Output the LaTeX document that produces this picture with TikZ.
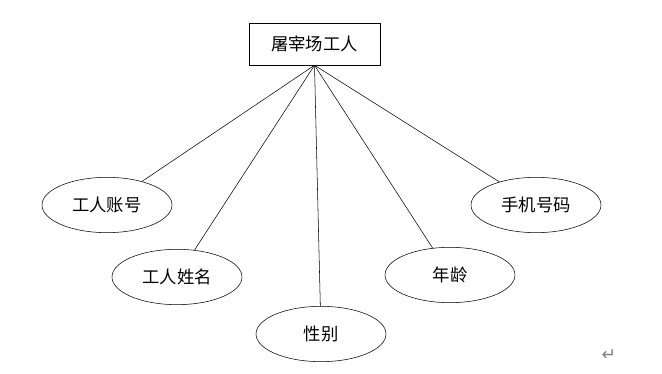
\documentclass[tikz,border=0pt]{standalone}
\usepackage{fontspec}
\newfontfamily\cjk{Noto Sans CJK SC}
\newfontfamily\symfont{DejaVu Sans}
\tikzset{
  entity/.style={draw, thin, rectangle, minimum width=98pt, minimum height=31.5pt, inner sep=0pt, font=\cjk\fontsize{13}{15}\selectfont},
  attr/.style={draw, thin, ellipse, minimum width=97.5pt, minimum height=41.5pt, inner sep=0pt, font=\cjk\fontsize{13}{15}\selectfont},
  link/.style={thin}
}
\usetikzlibrary{shapes.geometric}
\begin{document}
\begin{tikzpicture}[x=0.75pt, y=-0.75pt]
        % Frame of the page
        \useasboundingbox (0,0) rectangle (662,374);

        % Entity
        \node[entity] (worker) at (314.5,44) {屠宰场工人};

        % Attributes
        \node[attr] (acct) at (107,205) {工人账号};
        \node[attr] (name) at (177,277) {工人姓名};
        \node[attr] (sex) at (321,334) {性别};
        \node[attr] (age) at (450,275) {年龄};
        \node[attr] (phone) at (536,205) {手机号码};

        % Links from the entity to each attribute
        \foreach \a in {acct, name, sex, age, phone}
          \draw[link] (worker.south) -- (\a);

        % Paragraph mark
        \node[text=gray, font=\symfont\fontsize{13}{15}\selectfont] (mark) at (609,355) {↵};
\end{tikzpicture}
\end{document}
